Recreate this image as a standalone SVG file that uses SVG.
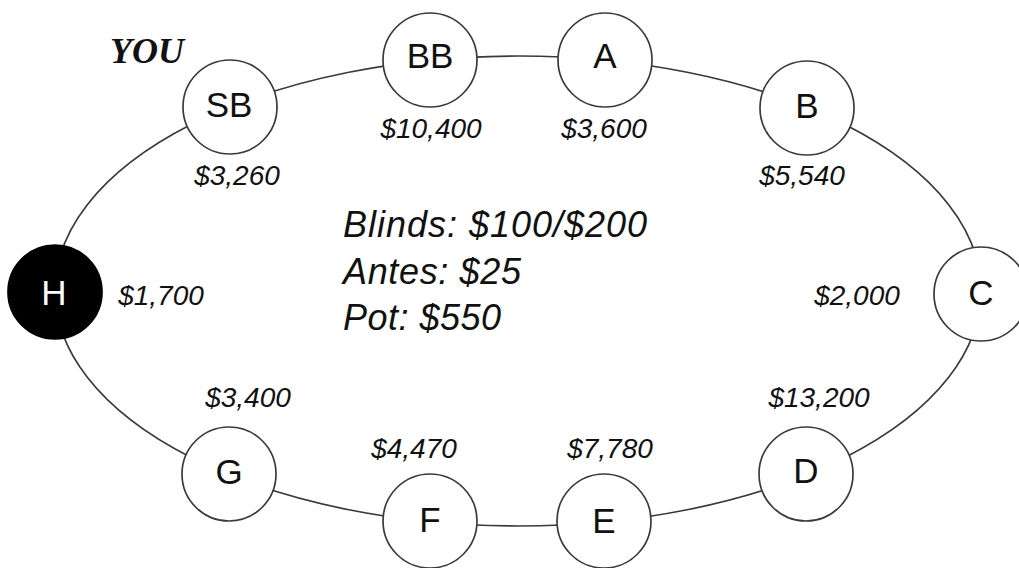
<svg xmlns="http://www.w3.org/2000/svg" width="1019" height="568" viewBox="0 0 1019 568">
  <style>
    .seat { fill: #ffffff; stroke: #3a3a3a; stroke-width: 1.7; }
    .seat-dark { fill: #000000; stroke: #000000; stroke-width: 1.7; }
    .pos { font-family: "Liberation Sans", Arial, sans-serif; font-size: 35px; fill: #111; text-anchor: middle; }
    .pos-dark { fill: #ffffff; }
    .stack { font-family: "Liberation Sans", Arial, sans-serif; font-size: 28px; font-style: italic; fill: #111; text-anchor: middle; }
    .info { font-family: "Liberation Sans", Arial, sans-serif; font-size: 36px; font-style: italic; fill: #111; }
    .you { font-family: "Liberation Serif", "Times New Roman", serif; font-size: 36px; font-style: italic; font-weight: bold; fill: #111; }
    .rail { fill: none; stroke: #3a3a3a; stroke-width: 1.7; }
  </style>

  <rect width="1019" height="568" fill="#ffffff"/>

  <!-- table rail linking the seats -->
  <g id="connectors">
    <ellipse class="rail" cx="518" cy="291" rx="463" ry="235"/>
  </g>

  <!-- seats -->
  <g id="seat-SB">
    <circle class="seat" cx="230" cy="107" r="47"/>
    <text class="pos" x="229" y="117">SB</text>
    <text class="stack" x="237" y="185">$3,260</text>
  </g>
  <g id="seat-BB">
    <circle class="seat" cx="430" cy="60" r="47"/>
    <text class="pos" x="430" y="68">BB</text>
    <text class="stack" x="431" y="138">$10,400</text>
  </g>
  <g id="seat-A">
    <circle class="seat" cx="605" cy="60" r="47"/>
    <text class="pos" x="605" y="68">A</text>
    <text class="stack" x="604" y="138">$3,600</text>
  </g>
  <g id="seat-B">
    <circle class="seat" cx="807" cy="108" r="47"/>
    <text class="pos" x="807" y="118">B</text>
    <text class="stack" x="802" y="185">$5,540</text>
  </g>
  <g id="seat-C">
    <circle class="seat" cx="981" cy="294" r="47"/>
    <text class="pos" x="981" y="305">C</text>
    <text class="stack" x="857" y="305">$2,000</text>
  </g>
  <g id="seat-D">
    <circle class="seat" cx="806" cy="474" r="47"/>
    <text class="pos" x="806" y="483">D</text>
    <text class="stack" x="819" y="407">$13,200</text>
  </g>
  <g id="seat-E">
    <circle class="seat" cx="604" cy="521" r="47"/>
    <text class="pos" x="604" y="533">E</text>
    <text class="stack" x="610" y="458">$7,780</text>
  </g>
  <g id="seat-F">
    <circle class="seat" cx="430" cy="521" r="47"/>
    <text class="pos" x="430" y="532">F</text>
    <text class="stack" x="414" y="458">$4,470</text>
  </g>
  <g id="seat-G">
    <circle class="seat" cx="229" cy="474" r="47"/>
    <text class="pos" x="229" y="484">G</text>
    <text class="stack" x="248" y="407">$3,400</text>
  </g>
  <g id="seat-H">
    <circle class="seat-dark" cx="55" cy="292" r="47"/>
    <text class="pos pos-dark" x="54" y="305">H</text>
    <text class="stack" x="161" y="305">$1,700</text>
  </g>

  <!-- player marker -->
  <g id="label-you">
    <text class="you" x="110" y="63">YOU</text>
  </g>

  <!-- game info -->
  <g id="game-info">
    <text class="info" x="343" y="237" textLength="304" lengthAdjust="spacing">Blinds: $100/$200</text>
    <text class="info" x="343" y="284" textLength="178" lengthAdjust="spacing">Antes: $25</text>
    <text class="info" x="343" y="330" textLength="158" lengthAdjust="spacing">Pot: $550</text>
  </g>
</svg>
